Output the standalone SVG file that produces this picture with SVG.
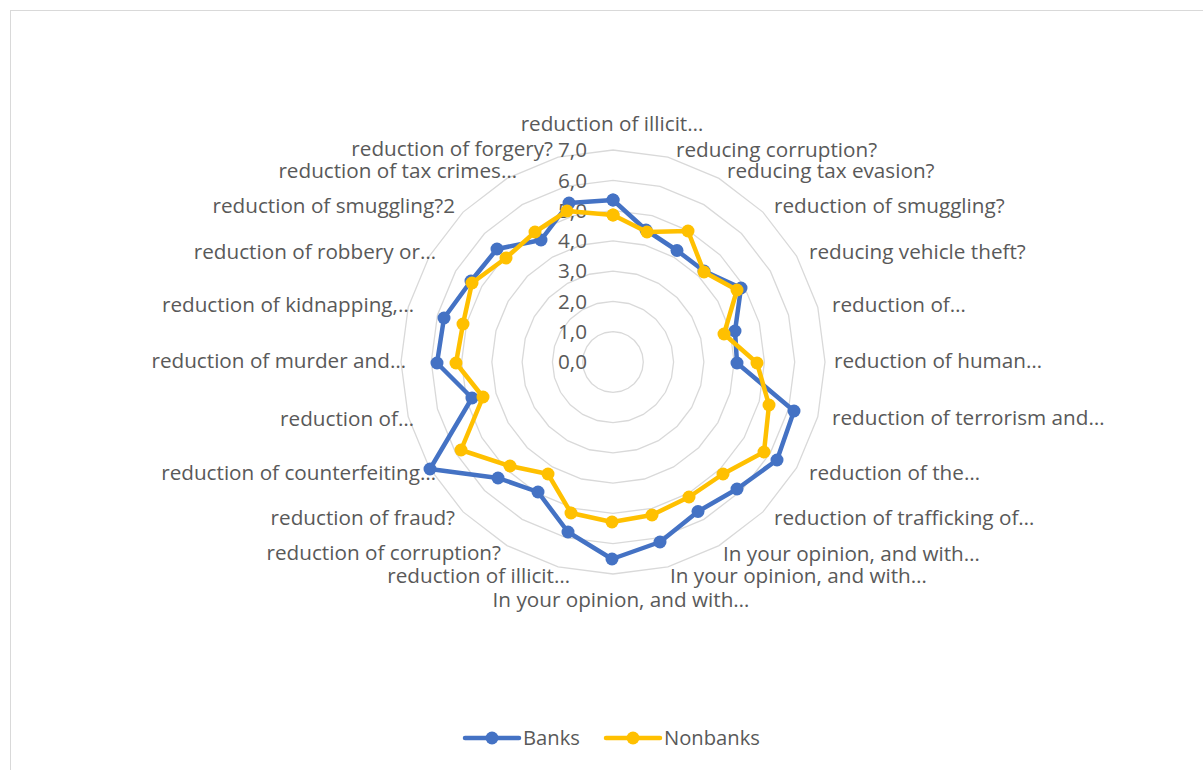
<svg xmlns="http://www.w3.org/2000/svg" xmlns:xlink="http://www.w3.org/1999/xlink" width="1203" height="770" viewBox="0 0 1203 770">
<style>
text{font-family:"Open Sans","Noto Sans","Liberation Sans",sans-serif;font-size:20.7px;fill:#595959}
.lg{font-size:20.2px}
.grid{fill:none;stroke:#D9D9D9;stroke-width:1.3}
.s{fill:none;stroke-width:4.5;stroke-linejoin:round;stroke-linecap:round}
.b{stroke:#4472C4}
.y{stroke:#FFC000}
.e{text-anchor:end}
.m{text-anchor:middle}
</style>
<defs>
<polygon id="ring" vector-effect="non-scaling-stroke" class="grid" points="0,-212 54.87,-204.78 106,-183.6 149.91,-149.91 183.6,-106 204.78,-54.87 212,0 204.78,54.87 183.6,106 149.91,149.91 106,183.6 54.87,204.78 0,212 -54.87,204.78 -106,183.6 -149.91,149.91 -183.6,106 -204.78,54.87 -212,0 -204.78,-54.87 -183.6,-106 -149.91,-149.91 -106,-183.6 -54.87,-204.78"/>
<marker id="mb" markerUnits="userSpaceOnUse" markerWidth="14" markerHeight="14" refX="7" refY="7"><circle cx="7" cy="7" r="6.5" fill="#4472C4"/></marker>
<marker id="my" markerUnits="userSpaceOnUse" markerWidth="14" markerHeight="14" refX="7" refY="7"><circle cx="7" cy="7" r="6.5" fill="#FFC000"/></marker>
</defs>
<rect x="0" y="0" width="1203" height="770" fill="#FFFFFF"/>
<rect x="10.5" y="10.5" width="1200" height="770" fill="none" stroke="#D9D9D9" stroke-width="1"/>
<g id="gridlines">
<use xlink:href="#ring" href="#ring" transform="translate(613 362) scale(0.142857)"/>
<use xlink:href="#ring" href="#ring" transform="translate(613 362) scale(0.285714)"/>
<use xlink:href="#ring" href="#ring" transform="translate(613 362) scale(0.428571)"/>
<use xlink:href="#ring" href="#ring" transform="translate(613 362) scale(0.571429)"/>
<use xlink:href="#ring" href="#ring" transform="translate(613 362) scale(0.714286)"/>
<use xlink:href="#ring" href="#ring" transform="translate(613 362) scale(0.857143)"/>
<use xlink:href="#ring" href="#ring" transform="translate(613 362)"/>
</g>
<g id="value-axis">
<text class="e" x="587" y="369">0,0</text>
<text class="e" x="587" y="339">1,0</text>
<text class="e" x="587" y="309">2,0</text>
<text class="e" x="587" y="278">3,0</text>
<text class="e" x="587" y="248">4,0</text>
<text class="e" x="587" y="218">5,0</text>
<text class="e" x="587" y="188">6,0</text>
<text class="e" x="587" y="157">7,0</text>
</g>
<g id="series-banks">
<polygon class="s b" marker-start="url(#mb)" marker-mid="url(#mb)" marker-end="url(#mb)" points="613,200 646,230 677,250.5 704,271 741,288 735,331 737,363 794,411 777,460 737,489 698,511.5 660,542 612,559 568,532 538,492 498,478 430,469 472,398 437,363 444,318 471,281 497,249 541,240 569,203"/>
</g>
<g id="series-nonbanks">
<polygon class="s y" marker-start="url(#my)" marker-mid="url(#my)" marker-end="url(#my)" points="613,215 647,232 688,231 704,272 737,290 724,334 757,363 769,405 764,452 723,474 689,497 652,515 612,522 571,513 548,474 510,466 461,450 483,397 456,363 463,324 472,283 506,258 535,232 567,211"/>
</g>
<g id="category-labels">
<text class="m" x="612" y="131">reduction of illicit…</text>
<text x="676" y="157">reducing corruption?</text>
<text x="727" y="178">reducing tax evasion?</text>
<text x="774" y="213">reduction of smuggling?</text>
<text x="809" y="259">reducing vehicle theft?</text>
<text x="832" y="312">reduction of…</text>
<text x="834" y="368">reduction of human…</text>
<text x="832" y="425">reduction of terrorism and…</text>
<text x="809" y="480">reduction of the…</text>
<text x="774" y="525">reduction of trafficking of…</text>
<text x="723" y="561">In your opinion, and with…</text>
<text x="670" y="583">In your opinion, and with…</text>
<text class="m" x="621" y="607">In your opinion, and with…</text>
<text class="e" x="570" y="583">reduction of illicit…</text>
<text class="e" x="501" y="560">reduction of corruption?</text>
<text class="e" x="455" y="525">reduction of fraud?</text>
<text class="e" x="436" y="480">reduction of counterfeiting…</text>
<text class="e" x="414" y="426">reduction of…</text>
<text class="e" x="406" y="368">reduction of murder and…</text>
<text class="e" x="414" y="312">reduction of kidnapping,…</text>
<text class="e" x="436" y="259">reduction of robbery or…</text>
<text class="e" x="455" y="213">reduction of smuggling?2</text>
<text class="e" x="517" y="178">reduction of tax crimes…</text>
<text class="e" x="553" y="156">reduction of forgery?</text>
</g>
<g id="legend">
<line class="s b" x1="465" y1="738" x2="519" y2="738"/>
<circle cx="492" cy="738" r="6.5" fill="#4472C4"/>
<text class="lg" x="523" y="745">Banks</text>
<line class="s y" x1="606" y1="738" x2="660" y2="738"/>
<circle cx="633" cy="738" r="6.5" fill="#FFC000"/>
<text class="lg" x="664" y="745">Nonbanks</text>
</g>
</svg>
